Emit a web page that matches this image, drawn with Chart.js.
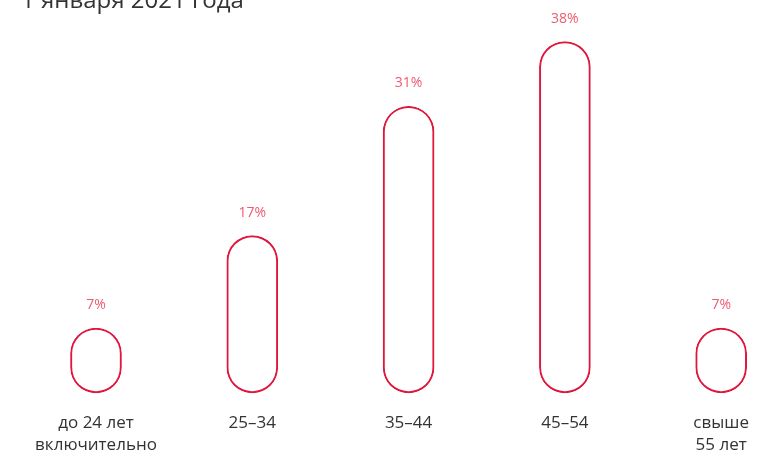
<!DOCTYPE html>
<html>
<head>
<meta charset="utf-8">
<script src="https://cdn.jsdelivr.net/npm/chart.js@4"></script>
<style>
  html, body { margin: 0; padding: 0; background: #fff; overflow: hidden; }
  #wrap { position: relative; width: 769px; height: 456px; overflow: hidden; }
  #title { position: absolute; left: 21px; top: -18px; font-family: "Open Sans", sans-serif; font-size: 24px; color: #333; white-space: nowrap; z-index: 2; }
  canvas { position: absolute; left: 0; top: 0; }
</style>
</head>
<body>
<div id="wrap">
  <div id="title">1 января 2021 года</div>
  <canvas id="c" width="769" height="476"></canvas>
</div>
<script>
const categories = [["до 24 лет", "включительно"], "25–34", "35–44", "45–54", ["свыше", "55 лет"]];
const shares = [7, 17, 31, 38, 7];
const valueLabels = ["7%", "17%", "31%", "38%", "7%"];

const RED = "#E0173C";
const PINK = "#EE5A70";

const valueLabelPlugin = {
  id: "valueLabels",
  afterDatasetsDraw(chart) {
    const ctx = chart.ctx;
    const meta = chart.getDatasetMeta(0);
    ctx.save();
    ctx.font = "14px 'Open Sans', sans-serif";
    ctx.fillStyle = PINK;
    ctx.textAlign = "center";
    ctx.textBaseline = "middle";
    meta.data.forEach((bar, i) => {
      ctx.fillText(valueLabels[i], bar.x, bar.y - 23);
    });
    ctx.restore();
  }
};

new Chart(document.getElementById("c"), {
  type: "bar",
  data: {
    labels: categories,
    datasets: [{
      data: shares,
      backgroundColor: "#ffffff",
      borderColor: RED,
      borderWidth: 2,
      borderRadius: 40,
      borderSkipped: false,
      barThickness: 51,
      clip: false
    }]
  },
  options: {
    responsive: false,
    animation: false,
    devicePixelRatio: 1,
    layout: { padding: { left: 96, right: 44, top: 0, bottom: 0 } },
    plugins: { legend: { display: false }, tooltip: { enabled: false } },
    scales: {
      x: {
        offset: false,
        grid: { display: false, drawTicks: false },
        border: { display: false },
        ticks: {
          color: "#333",
          font: { family: "'Open Sans', sans-serif", size: 17, lineHeight: 1.27 },
          padding: 20,
          maxRotation: 0,
          autoSkip: false
        }
      },
      y: {
        display: false,
        min: 0,
        max: 42.5
      }
    }
  },
  plugins: [valueLabelPlugin]
});
</script>
</body>
</html>
